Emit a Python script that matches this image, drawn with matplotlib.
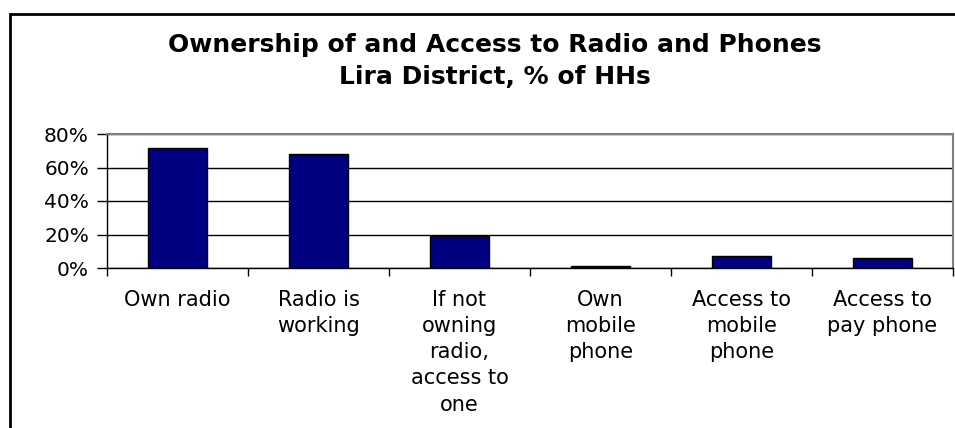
"""
Ownership of and Access to Radio and Phones, Lira District (% of HHs)
simple Excel-style bar chart redrawn with matplotlib
"""

import numpy as np
import matplotlib.pyplot as plt
from matplotlib.patches import Rectangle

# data
categories = ['Own radio', 'Radio is\nworking', 'If not\nowning\nradio,\naccess to\none',
              'Own\nmobile\nphone', 'Access to\nmobile\nphone', 'Access to\npay phone']
values = [71.5, 68, 19, 1, 7, 6]
y_ticks = [0, 20, 40, 60, 80]
y_tick_labels = ['0%', '20%', '40%', '60%', '80%']
title_text = 'Ownership of and Access to Radio and Phones\nLira District, % of HHs'

plt.rcParams['font.family'] = ['DejaVu Sans']

fig = plt.figure(figsize=(9.55, 4.28), dpi=100)
W, H = 955, 428

# outer chart frame (cut off at right and bottom like the reference)
frame = Rectangle((10 / W, -0.05), 1.1, 1 - 14 / H + 0.05, transform=fig.transFigure,
                  fill=False, edgecolor='black', linewidth=2, clip_on=False)
fig.patches.append(frame)

fig.text(495 / W, 1 - 61 / H, title_text, ha='center', va='center',
         fontsize=18, fontweight='bold', linespacing=1.42, multialignment='center')

ax = fig.add_axes([107 / W, 1 - 268 / H, (953 - 107) / W, (268 - 134) / H])

x = np.arange(len(categories)) + 0.5
ax.bar(x, values, width=0.42, color='#000080', edgecolor='black', linewidth=1, zorder=3)

ax.set_xlim(0, len(categories))
ax.set_ylim(0, 80)
ax.set_yticks(y_ticks)
ax.set_yticklabels(y_tick_labels, fontsize=14.5)

# boundary ticks without labels, labels at category centres
ax.set_xticks(np.arange(len(categories) + 1))
ax.set_xticklabels([])
ax.set_xticks(x, minor=True)
ax.set_xticklabels(categories, minor=True, fontsize=15, linespacing=1.38)
ax.tick_params(axis='x', which='major', length=6, width=1, direction='out')
ax.tick_params(axis='x', which='minor', length=0, pad=16)
ax.tick_params(axis='y', length=7, width=1, direction='out', pad=6)

ax.yaxis.grid(True, color='black', linewidth=1, zorder=0)
ax.set_axisbelow(True)

for side in ['top', 'right']:
    ax.spines[side].set_color('#808080')
    ax.spines[side].set_linewidth(1.5)
for side in ['left', 'bottom']:
    ax.spines[side].set_color('black')
    ax.spines[side].set_linewidth(1)

plt.savefig('out.png', dpi=100)
